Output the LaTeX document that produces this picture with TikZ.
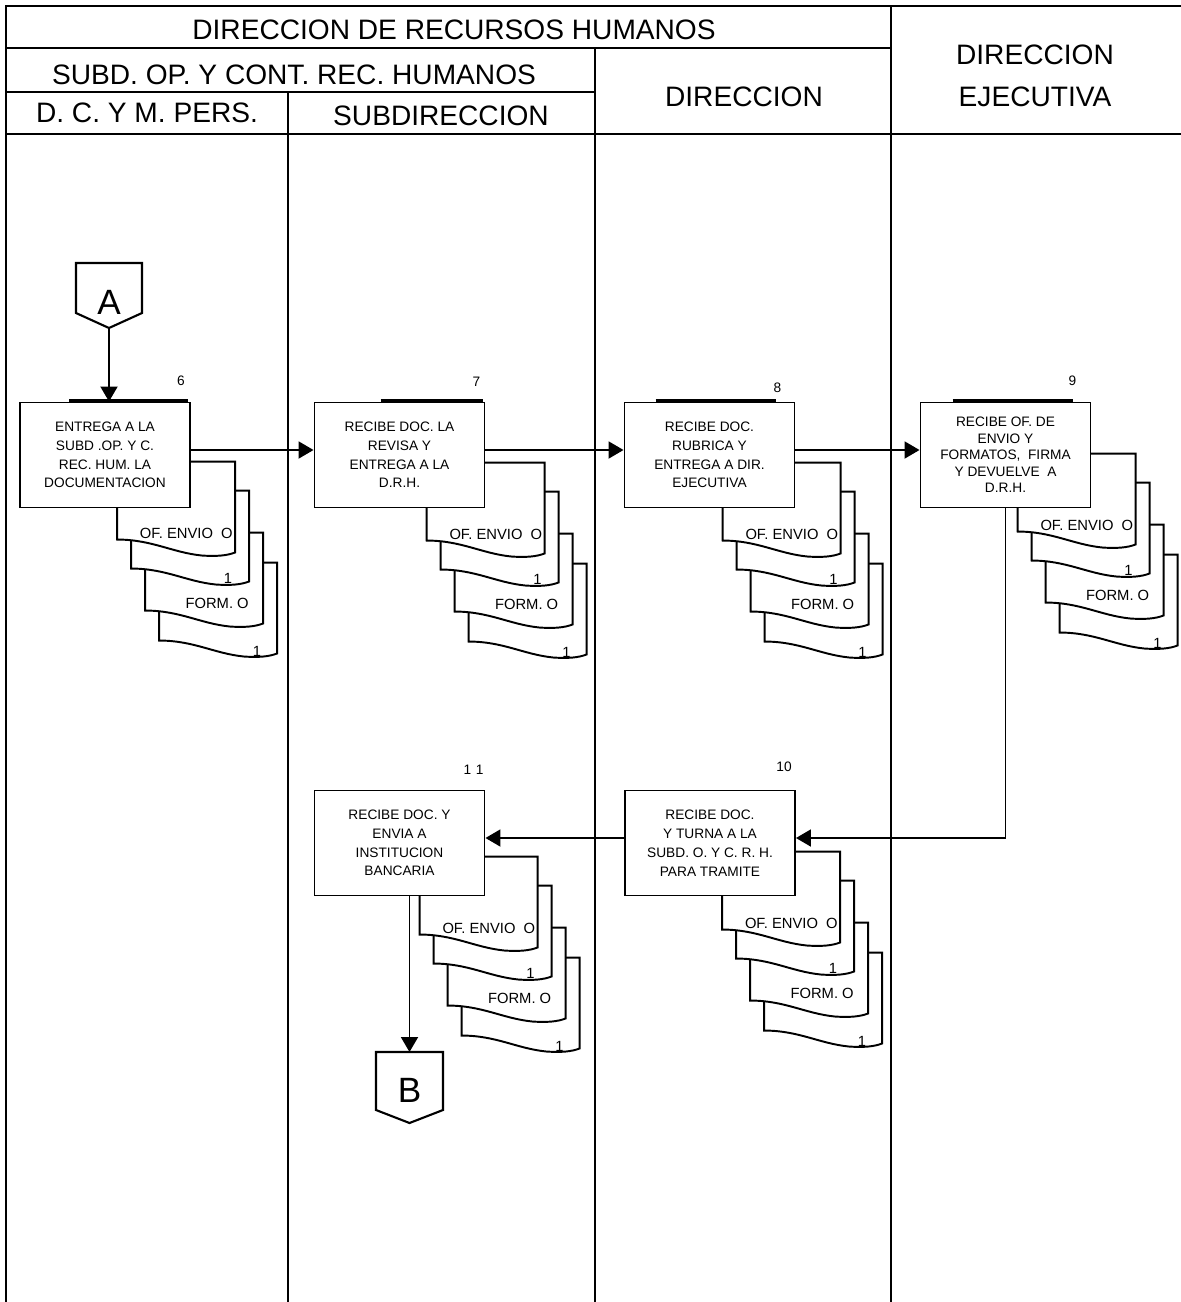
\documentclass[tikz,border=0pt]{standalone}
\usepackage{fontspec}
\setmainfont{Liberation Sans}
\usetikzlibrary{arrows.meta,calc,backgrounds}
\tikzset{lane/.style={line width=1.2pt},
  hdr/.style={font=\fontsize{16}{24}\selectfont,align=center,inner sep=0pt},
  proc/.style={draw,line width=1.1pt,fill=white,minimum width=3.4cm,minimum height=2.1cm,align=center,inner sep=1pt,font=\fontsize{7.8}{10.7}\selectfont},
  stepno/.style={font=\fontsize{7.8}{9}\selectfont,inner sep=0pt},
  conn/.style={font=\fontsize{20}{24}\selectfont,inner sep=0pt},
  doc/.style={draw,fill=white,line width=1.1pt},
  doctxt/.style={font=\fontsize{8.4}{9}\selectfont,inner sep=0pt},
  bar/.style={line width=2.2pt},
  arr/.style={-{Triangle[length=3mm,width=3.4mm]},line width=1.1pt},
  docstack/.pic={
    \foreach \dx/\dy in {42/101,28/71,14/29,0/0}
      \draw[doc,shift={(\dx,\dy)}] (0,0) -- (118,0) -- (118,91) .. controls (110,94) and (100,95) .. (85,94) .. controls (55,91) and (35,78) .. (0,78) -- cycle;
    \node[doctxt,anchor=east] at (116,72) {OF. ENVIO\ \ O};
    \node[doctxt] at (111,117) {1};
    \node[doctxt,anchor=east] at (132,142) {FORM.\ O};
    \node[doctxt] at (140,190) {1};
  }}

\begin{document}
\begin{tikzpicture}[x=0.2mm,y=-0.2mm]
\useasboundingbox (0,0) rectangle (1181,1302);
% lanes
\draw[lane] (6,1302) -- (6,6) -- (1181,6);
\draw[lane] (6,48) -- (891,48);
\draw[lane] (6,92) -- (595,92);
\draw[lane] (6,134) -- (1181,134);
\draw[lane] (288,92) -- (288,1302);
\draw[lane] (595,48) -- (595,1302);
\draw[lane] (891,6) -- (891,1302);
\node[hdr] (hDRH) at (454,30) {DIRECCION DE RECURSOS HUMANOS};
\node[hdr] (hSUBD) at (294,75) {SUBD. OP. Y CONT. REC. HUMANOS};
\node[hdr] (hDCM) at (147,113) {D. C. Y M. PERS.};
\node[hdr] (hSUB) at (441,116) {SUBDIRECCION};
\node[hdr] (hDIR) at (744,97) {DIRECCION};
\node[hdr] (hDE) at (1035,76) {DIRECCION\\EJECUTIVA};

% steps
\node[proc] (b6) at (105,455) {ENTREGA A LA\\SUBD .OP. Y C.\\REC. HUM. LA\\DOCUMENTACION};
\node[proc] (b7) at (399.5,455) {RECIBE DOC. LA\\REVISA Y\\ENTREGA A LA\\D.R.H.};
\node[proc] (b8) at (709.5,455) {RECIBE DOC.\\RUBRICA Y\\ENTREGA A DIR.\\EJECUTIVA};
\node[proc,font=\fontsize{7.8}{9.4}\selectfont] (b9) at (1005.5,455) {RECIBE OF. DE\\ENVIO Y\\FORMATOS,\ \ FIRMA\\Y DEVUELVE\ \ A\\D.R.H.};
\node[proc] (b10) at (710,843) {RECIBE DOC.\\Y TURNA A LA\\SUBD. O. Y C. R. H.\\PARA TRAMITE};
\node[proc] (b11) at (399.5,843) {RECIBE DOC. Y\\ENVIA A\\INSTITUCION\\BANCARIA};

\begin{scope}[on background layer]
\pic at ($(b6.north west)+(98,60)$) {docstack};
\pic at ($(b7.north west)+(113,61)$) {docstack};
\pic at ($(b8.north west)+(99,61)$) {docstack};
\pic at ($(b9.north west)+(98,52)$) {docstack};
\pic at ($(b10.north west)+(98,62)$) {docstack};
\pic at ($(b11.north west)+(106,67)$) {docstack};
\end{scope}

\draw[bar] ($(b6.north west)+(50,-1)$) -- ($(b6.north west)+(169,-1)$);
\draw[bar] ($(b7.north west)+(67,-1)$) -- ($(b7.north west)+(169,-1)$);
\draw[bar] ($(b8.north west)+(32,-1)$) -- ($(b8.north west)+(152,-1)$);
\draw[bar] ($(b9.north west)+(33,-1)$) -- ($(b9.north west)+(153,-1)$);

\node[stepno] (n6) at ($(b6.north west)+(162,-21)$) {6};
\node[stepno] (n7) at ($(b7.north west)+(163,-20)$) {7};
\node[stepno] (n8) at ($(b8.north west)+(154,-14)$) {8};
\node[stepno] (n9) at ($(b9.north west)+(153,-21)$) {9};
\node[stepno] (n10) at ($(b10.north west)+(160,-23)$) {10};
\node[stepno] (n11) at ($(b11.north west)+(160,-20)$) {1\,\,1};

% connectors
\node[conn] (A) at (109,302) {A};
\draw[lane] ($(A)+(-33,-39)$) -- ++(66,0) -- ++(0,50) -- ++(-33,15) -- ++(-33,-15) -- cycle;
\coordinate (Atip) at ($(A)+(0,26)$);
\node[conn] (B) at (409.5,1090) {B};
\draw[lane] ($(B)+(-33.5,-38)$) -- ++(67,0) -- ++(0,58) -- ++(-33.5,13) -- ++(-33.5,-13) -- cycle;
\coordinate (Btop) at ($(B)+(0,-38)$);

% flow
\draw[arr] (Atip) -- (Atip |- b6.north);
\draw[arr] ([yshift=1mm]b6.east) -- ([yshift=1mm]b7.west);
\draw[arr] ([yshift=1mm]b7.east) -- ([yshift=1mm]b8.west);
\draw[arr] ([yshift=1mm]b8.east) -- ([yshift=1mm]b9.west);
\draw[arr] (b9.south) |- ([yshift=1mm]b10.east);
\draw[arr] ([yshift=1mm]b10.west) -- ([yshift=1mm]b11.east);
\draw[arr] (Btop |- b11.south) -- (Btop);
\end{tikzpicture}
\end{document}
